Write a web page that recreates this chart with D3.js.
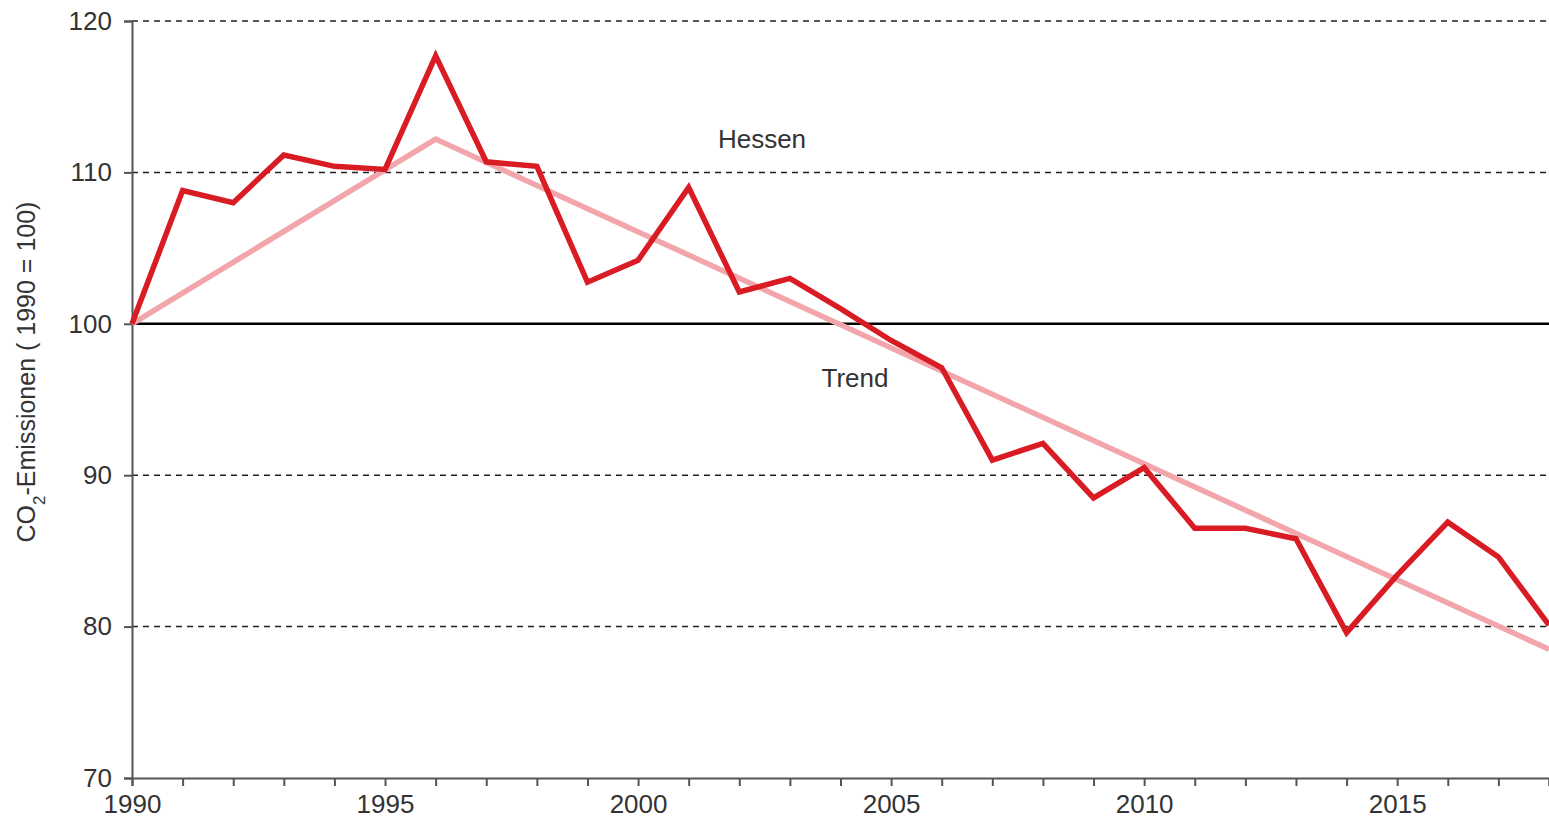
<!DOCTYPE html>
<html>
<head>
<meta charset="utf-8">
<script src="https://cdn.jsdelivr.net/npm/d3@7/dist/d3.min.js"></script>
<style>
  html, body { margin: 0; padding: 0; background: #fff; overflow: hidden; }
  text { font-family: "Liberation Sans", Arial, sans-serif; fill: #333; }
</style>
</head>
<body>
<svg id="chart" width="1549" height="823"></svg>
<script>
// data
const years = [1990, 1991, 1992, 1993, 1994, 1995, 1996, 1997, 1998, 1999,
  2000, 2001, 2002, 2003, 2004, 2005, 2006, 2007, 2008, 2009,
  2010, 2011, 2012, 2013, 2014, 2015, 2016, 2017, 2018];
const hessen = [100, 108.8, 108.0, 111.15, 110.4, 110.2, 117.7, 110.7, 110.4, 102.75,
  104.2, 109.0, 102.1, 103.0, 101.0, 98.9, 97.1, 91.0, 92.1, 88.5,
  90.5, 86.5, 86.5, 85.8, 79.6, 83.4, 86.9, 84.6, 80.1];
const trendYears = [1990, 1996, 2018];
const trendValues = [100, 112.2, 78.5];
const yTicks = [70, 80, 90, 100, 110, 120];
const xTicks = [1990, 1995, 2000, 2005, 2010, 2015];
const gridValues = [80, 90, 110, 120];

const svg = d3.select("#chart");
const width = 1549, height = 823;
const margin = {left: 132, right: 0, top: 21, bottom: 45};

const x = d3.scaleLinear().domain([1990, 2018]).range([margin.left, width - margin.right]);
const y = d3.scaleLinear().domain([70, 120]).range([height - margin.bottom, margin.top]);

// dashed grid
svg.append("g").selectAll("line")
  .data(gridValues)
  .enter().append("line")
  .attr("x1", margin.left).attr("x2", width)
  .attr("y1", d => y(d)).attr("y2", d => y(d))
  .attr("stroke", "#222").attr("stroke-width", 1.5)
  .attr("stroke-dasharray", "6,5");

// 100 reference line
svg.append("line")
  .attr("x1", margin.left).attr("x2", width)
  .attr("y1", y(100)).attr("y2", y(100))
  .attr("stroke", "#000").attr("stroke-width", 2.5);

// axes
const yAxis = svg.append("g")
  .attr("transform", "translate(" + margin.left + ",0)")
  .call(d3.axisLeft(y).tickValues(yTicks).tickSize(8).tickPadding(12).tickFormat(d3.format("d")));
const xAxis = svg.append("g")
  .attr("transform", "translate(0," + y(70) + ")")
  .call(d3.axisBottom(x).ticks(28).tickSize(8).tickPadding(9)
    .tickFormat(d => xTicks.includes(d) ? d : ""));
[yAxis, xAxis].forEach(a => {
  a.select(".domain").attr("stroke", "#555").attr("stroke-width", 2);
  a.selectAll(".tick line").attr("stroke", "#555").attr("stroke-width", 2);
  a.selectAll(".tick text").style("font-size", "26px").attr("fill", "#333");
});

// lines
const line = d3.line().x(d => x(d[0])).y(d => y(d[1]));
svg.append("path")
  .datum(d3.zip(trendYears, trendValues))
  .attr("d", line)
  .attr("fill", "none").attr("stroke", "#f2a6ab").attr("stroke-width", 5.5);
svg.append("path")
  .datum(d3.zip(years, hessen))
  .attr("d", line)
  .attr("fill", "none").attr("stroke", "#d91c24").attr("stroke-width", 5.5)
  .attr("stroke-linejoin", "miter");

// labels
svg.append("text").attr("x", 762).attr("y", 148).attr("text-anchor", "middle")
  .style("font-size", "26px").text("Hessen");
svg.append("text").attr("x", 855).attr("y", 387).attr("text-anchor", "middle")
  .style("font-size", "26px").text("Trend");

const yl = svg.append("text")
  .attr("transform", "translate(35,372) rotate(-90)")
  .attr("text-anchor", "middle")
  .style("font-size", "25px").attr("fill", "#444");
yl.append("tspan").text("CO");
yl.append("tspan").attr("baseline-shift", "sub").style("font-size", "17px").text("2");
yl.append("tspan").text("-Emissionen  ( 1990 = 100)");
</script>
</body>
</html>
